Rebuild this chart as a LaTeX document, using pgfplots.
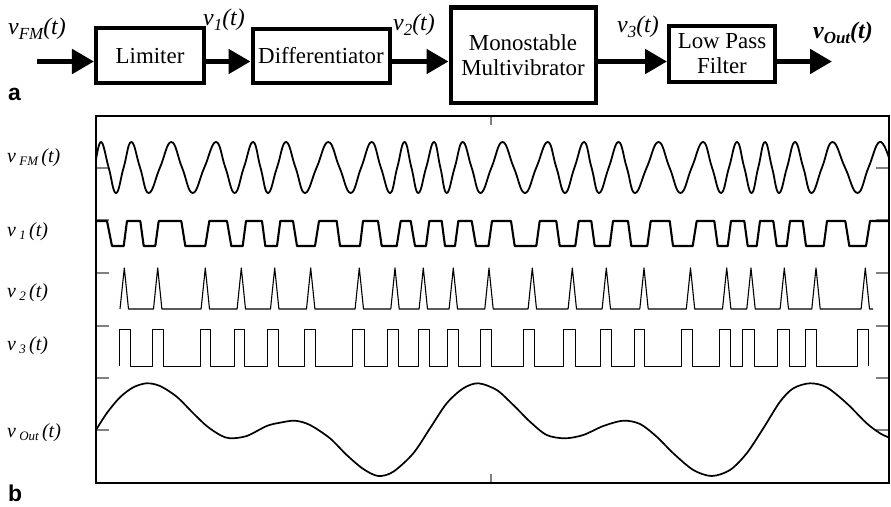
\documentclass[border=0pt]{standalone}
\usepackage{pgfplots}
\pgfplotsset{compat=1.18}
\usepackage{fontspec}
\setmainfont{Liberation Serif}
\newfontfamily\sansf{Liberation Sans}
\usetikzlibrary{arrows.meta}
\newcommand{\blk}{\fontsize{23}{25}\selectfont}
\newcommand{\sig}[1]{\fontsize{24}{26}\selectfont\itshape v\raisebox{-0.22em}{\fontsize{17}{18}\selectfont #1}(t)}
\newcommand{\lab}[1]{\fontsize{20}{22}\selectfont\itshape v\,\raisebox{-0.2em}{\fontsize{13}{14}\selectfont #1}\,(t)}
\begin{document}
\begin{tikzpicture}
\path[use as bounding box] (0bp,0bp) rectangle (891bp,-507bp);
\begin{scope}[x=1bp,y=-1bp]
  % blocks
  \draw[line width=4bp] (96,28) rectangle (204,83);
  \draw[line width=4bp] (252.5,29) rectangle (389.5,83);
  \draw[line width=4bp] (450.5,7.5) rectangle (595.5,103);
  \draw[line width=4bp] (669,26) rectangle (775,82);
  \node[font=\blk] at (150,56) {Limiter};
  \node[font=\blk] at (321,56) {Differentiator};
  \node[font=\blk, align=center] at (523,55) {Monostable\\Multivibrator};
  \node[font=\blk, align=center] at (722,54) {Low Pass\\Filter};
  % arrows
  \begin{scope}[line width=5bp, -{Triangle[length=22bp,width=24bp]}]
    \draw (37,61.5) -- (94,61.5);
    \draw (206,61.5) -- (250.5,61.5);
    \draw (391.5,61.5) -- (448.5,61.5);
    \draw (597.5,61.5) -- (667,61.5);
    \draw (777,61.5) -- (832,61.5);
  \end{scope}
  % signal labels
  \node[anchor=base west, inner sep=0pt] at (8,34) {\sig{FM}};
  \node[anchor=base west, inner sep=0pt] at (203,25) {\sig{1}};
  \node[anchor=base west, inner sep=0pt] at (393,30) {\sig{2}};
  \node[anchor=base west, inner sep=0pt] at (617,32) {\sig{3}};
  \node[anchor=base west, inner sep=0pt] at (813,38) {\bfseries\sig{\bfseries Out}};
  \node[anchor=base west, inner sep=0pt, font=\sansf\bfseries\fontsize{23}{25}\selectfont] at (8,100) {a};
  \node[anchor=base west, inner sep=0pt, font=\sansf\bfseries\fontsize{23}{25}\selectfont] at (8,501) {b};
  % waveform labels
  \node[anchor=base west, inner sep=0pt] at (7,162) {\lab{FM}};
  \node[anchor=base west, inner sep=0pt] at (7,236) {\lab{1}};
  \node[anchor=base west, inner sep=0pt] at (7,297) {\lab{2}};
  \node[anchor=base west, inner sep=0pt] at (7,350) {\lab{3}};
  \node[anchor=base west, inner sep=0pt] at (7,437) {\lab{Out}};
\end{scope}
\begin{axis}[
  at={(96bp,-483bp)}, anchor=south west,
  width=793bp, height=367bp, scale only axis,
  xmin=96, xmax=889, ymin=-483, ymax=-116,
  xtick={491}, ytick={-430,-378,-326,-273,-220,-168},
  xticklabels={}, yticklabels={},
  tick align=inside,
  axis line style={line width=1.8bp},
  xtick style={line width=1.3bp, /pgfplots/major tick length=9bp},
  ytick style={line width=1.3bp, /pgfplots/major tick length=13bp},
  every axis plot/.append style={black, line join=round, mark=none},
]
% v_FM
\addplot[line width=1.8bp, smooth, tension=0.75] coordinates {
(96,-160) (101.3,-142) (108.65,-167.5) (116,-193) (123.65,-167.5) (131.3,-142)
(140,-167.5) (148.7,-193) (160,-167.5) (171.3,-142) (182,-167.5) (192.7,-193)
(204.35,-167.5) (216,-142) (225.35,-167.5) (234.7,-193) (243.85,-167.5) (253,-142)
(260.5,-167.5) (268,-193) (277,-167.5) (286,-142) (295.5,-167.5) (305,-193)
(316.65,-167.5) (328.3,-142) (339.5,-167.5) (350.7,-193) (361.2,-167.5) (371.7,-142)
(380.85,-167.5) (390,-193) (397.25,-167.5) (404.5,-142) (411.4,-167.5) (418.3,-193)
(426.15,-167.5) (434,-142) (440.35,-167.5) (446.7,-193) (454.7,-167.5) (462.7,-142)
(471.6,-167.5) (480.5,-193) (491.5,-167.5) (502.5,-142) (513.75,-167.5) (525,-193)
(536.35,-167.5) (547.7,-142) (556.35,-167.5) (565,-193) (574.5,-167.5) (584,-142)
(591.5,-167.5) (599,-193) (608.75,-167.5) (618.5,-142) (626.75,-167.5) (635,-193)
(646.75,-167.5) (658.5,-142) (669.5,-167.5) (680.5,-193) (691.75,-167.5) (703,-142)
(712,-167.5) (721,-193) (729,-167.5) (737,-142) (744.25,-167.5) (751.5,-193)
(758.25,-167.5) (765,-142) (772,-167.5) (779,-193) (787,-167.5) (795,-142)
(803.25,-167.5) (811.5,-193) (822,-167.5) (832.5,-142) (845,-167.5) (857.5,-193)
(868.5,-167.5) (879.5,-142) (889,-158)
};
% v_1
\addplot[line width=2.1bp] coordinates {
(96,-221) (107,-221) (112,-246) (123.7,-246) (127,-221) (140.3,-221) (143.7,-246)
(155.3,-246) (158.7,-221) (181.3,-221) (185.3,-246) (205.3,-246) (209.3,-221)
(227,-221) (231.3,-246) (242.7,-246) (246,-221) (262,-221) (265.3,-246) (277,-246)
(280.3,-221) (293,-221) (297,-246) (315,-246) (319,-221) (336.7,-221) (340,-246)
(360,-246) (363,-221) (378,-221) (381.7,-246) (396.7,-246) (400.7,-221) (410.7,-221)
(415,-246) (426,-246) (429.3,-221) (441.7,-221) (445,-246) (455,-246) (458.3,-221)
(471.7,-221) (476,-246) (488.5,-246) (492,-221) (511,-221) (514.7,-246) (536.3,-246)
(539.7,-221) (556.3,-221) (559.7,-246) (575.3,-246) (578.7,-221) (591.3,-221)
(594.7,-246) (609.7,-246) (613,-221) (628,-221) (631.3,-246) (647.3,-246) (650.7,-221)
(669.7,-221) (673,-246) (692.7,-246) (696.7,-221) (714.3,-221) (717.7,-246)
(727.7,-246) (731,-221) (744.3,-221) (747.7,-246) (756.7,-246) (760,-221)
(773.3,-221) (776.7,-246) (786.7,-246) (790,-221) (802.7,-221) (806,-246)
(823.7,-246) (827,-221) (845.3,-221) (849.3,-246) (866,-246) (870,-221) (889,-221)
};
% v_2
\addplot[line width=1.1bp] coordinates {
(120,-309) (124.3,-268) (128.5,-309) (153.5,-309) (157.7,-268) (161.9,-309)
(201.1,-309) (205.3,-268) (209.5,-309) (237.1,-309) (241.3,-268) (245.5,-309)
(270.5,-309) (274.7,-268) (278.9,-309) (306.5,-309) (310.7,-268) (314.9,-309)
(355.1,-309) (359.3,-268) (363.5,-309) (390.8,-309) (395,-268) (399.2,-309)
(419.1,-309) (423.3,-268) (427.5,-309) (449.1,-309) (453.3,-268) (457.5,-309)
(484.8,-309) (489,-268) (493.2,-309) (528.1,-309) (532.3,-268) (536.5,-309)
(568.1,-309) (572.3,-268) (576.5,-309) (602.1,-309) (606.3,-268) (610.5,-309)
(639.8,-309) (644,-268) (648.2,-309) (686.3,-309) (690.5,-268) (694.7,-309)
(722.5,-309) (726.7,-268) (730.9,-309) (746.8,-309) (751,-268) (755.2,-309)
(780.1,-309) (784.3,-268) (788.5,-309) (811.8,-309) (816,-268) (820.2,-309)
(861.1,-309) (865.3,-268) (869.5,-309) (873,-309)
};
% v_3
\addplot[line width=0.9bp] coordinates {
(119.3,-366) (119.3,-329) (130,-329) (130,-366)
(152.7,-366) (152.7,-329) (163.3,-329) (163.3,-366)
(200,-366) (200,-329) (210.7,-329) (210.7,-366)
(234,-366) (234,-329) (244.7,-329) (244.7,-366)
(267.7,-366) (267.7,-329) (278.7,-329) (278.7,-366)
(304,-366) (304,-329) (315,-329) (315,-366)
(352.7,-366) (352.7,-329) (364,-329) (364,-366)
(387.3,-366) (387.3,-329) (398.3,-329) (398.3,-366)
(418.3,-366) (418.3,-329) (429.3,-329) (429.3,-366)
(447.7,-366) (447.7,-329) (458.7,-329) (458.7,-366)
(480,-366) (480,-329) (491,-329) (491,-366)
(523.3,-366) (523.3,-329) (534,-329) (534,-366)
(563.3,-366) (563.3,-329) (575,-329) (575,-366)
(600,-366) (600,-329) (611,-329) (611,-366)
(634,-366) (634,-329) (644.7,-329) (644.7,-366)
(681,-366) (681,-329) (692,-329) (692,-366)
(719,-366) (719,-329) (730,-329) (730,-366)
(742.7,-366) (742.7,-329) (754,-329) (754,-366)
(777.7,-366) (777.7,-329) (789.3,-329) (789.3,-366)
(805.7,-366) (805.7,-329) (816.7,-329) (816.7,-366)
(857.3,-366) (857.3,-329) (868.3,-329) (868.3,-366)
};
% v_out
\addplot[line width=1.7bp, smooth, tension=0.5] coordinates {
(96,-430) (106.7,-413.3) (120,-397.3) (133.3,-387.3) (146.7,-383.3) (160,-386)
(176.7,-396.7) (193.3,-413.3) (206.7,-426) (220,-435) (230,-438.3) (246.7,-436)
(266.7,-426) (280,-422.7) (295,-420.7) (310,-425) (330,-438.3) (346.7,-455)
(363.3,-469) (378.3,-476) (393.3,-471.7) (413.3,-453.3) (430,-428.3) (446.7,-403.3)
(463.3,-388.3) (478.3,-383.3) (496.7,-390) (513.3,-405) (530,-421.7) (546.7,-435)
(565,-438.3) (583.3,-435) (603.3,-426) (623.3,-420.7) (640,-424) (656.7,-436.7)
(673.3,-453.3) (693.3,-470) (711.7,-476) (730,-470) (746.7,-453.3) (763.3,-428.3)
(780,-401.7) (793.3,-388.3) (810,-383.3) (826.7,-387.3) (846.7,-403.3) (866.7,-423.3)
(880,-433.3) (889,-437.5)
};
\end{axis}
\end{tikzpicture}
\end{document}
